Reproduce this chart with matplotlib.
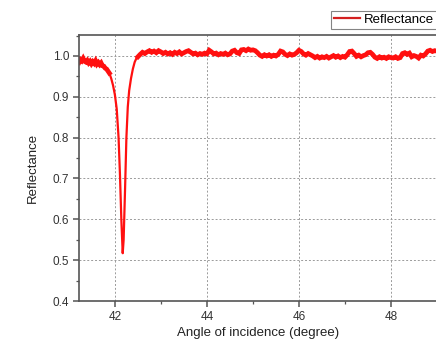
import matplotlib.pyplot as plt
from matplotlib.ticker import MultipleLocator

plt.rcParams['font.family'] = ['Liberation Sans', 'DejaVu Sans']

# noisy start before the dip
angle_left = [41.22, 41.25, 41.28, 41.31, 41.34, 41.37, 41.40, 41.43, 41.46, 41.49,
              41.52, 41.55, 41.58, 41.61, 41.64, 41.67, 41.70, 41.73, 41.76, 41.79,
              41.82, 41.85, 41.88]
refl_left = [0.984, 0.991, 0.988, 0.994, 0.987, 0.985, 0.989, 0.983, 0.987, 0.981,
             0.986, 0.982, 0.988, 0.980, 0.984, 0.979, 0.983, 0.976, 0.975, 0.970,
             0.968, 0.963, 0.958]

# resonance dip
angle_dip = [41.88, 41.92, 41.96, 42.00, 42.04, 42.08, 42.11, 42.14, 42.17, 42.19,
             42.22, 42.25, 42.28, 42.31, 42.35, 42.39, 42.43, 42.47, 42.50]
refl_dip = [0.958, 0.945, 0.928, 0.905, 0.870, 0.800, 0.710, 0.600, 0.517, 0.550,
            0.670, 0.800, 0.875, 0.915, 0.945, 0.968, 0.985, 0.995, 0.998]

# flat region, 42.50 .. 49.00 every 0.05 degree
angle_flat = [round(42.50 + 0.05 * i, 2) for i in range(131)]
refl_flat = [
    0.998,
    1.004, 1.009, 1.006, 1.010, 1.013, 1.009, 1.012, 1.008, 1.013, 1.010,
    1.006, 1.009, 1.005, 1.008, 1.004, 1.009, 1.006, 1.010, 1.005, 1.008,
    1.011, 1.013, 1.009, 1.005, 1.007, 1.003, 1.006, 1.004, 1.007, 1.005,
    1.014, 1.010, 1.005, 1.007, 1.003, 1.006, 1.004, 1.007, 1.003, 1.005,
    1.012, 1.014, 1.008, 1.006, 1.015, 1.016, 1.013, 1.017, 1.014, 1.015,
    1.013, 1.008, 1.002, 0.999, 1.003, 1.000, 1.003, 0.999, 1.002, 1.000,
    1.004, 1.012, 1.010, 1.004, 1.001, 1.005, 1.002, 1.004, 1.008, 1.014,
    1.011, 1.005, 1.002, 1.006, 1.003, 1.000, 0.996, 0.999, 0.995, 0.998,
    0.996, 0.999, 0.995, 0.998, 1.001, 0.997, 1.000, 0.996, 0.999, 0.997,
    1.003, 1.011, 1.012, 1.006, 0.999, 1.002, 0.998, 1.001, 1.003, 1.008,
    1.009, 1.004, 0.997, 0.994, 0.998, 0.995, 0.997, 0.994, 0.998, 0.996,
    0.995, 0.998, 0.994, 0.996, 1.006, 1.008, 1.004, 1.007, 0.998, 1.001,
    0.999, 0.995, 1.002, 1.000, 1.005, 1.012, 1.014, 1.011, 1.013, 1.012,
]

angle = angle_left + angle_dip[1:] + angle_flat[1:]
refl = refl_left + refl_dip[1:] + refl_flat[1:]

fig = plt.figure(figsize=(4.36, 3.42), dpi=100)
ax = fig.add_axes([79 / 436, 41 / 342, 358 / 436, 266 / 342])

red = '#ff1010'
line, = ax.plot(angle, refl, color=red, lw=1.6, label='Reflectance')
# noisy parts look like a thick jagged band
ax.plot(angle_left, refl_left, color=red, lw=3.4, solid_joinstyle='miter')
ax.plot(angle_flat, refl_flat, color=red, lw=3.4, solid_joinstyle='miter')

ax.set_xlim(41.22, 49.0)
ax.set_ylim(0.4, 1.0514)
ax.xaxis.set_major_locator(MultipleLocator(2))
ax.xaxis.set_minor_locator(MultipleLocator(1))
ax.yaxis.set_major_locator(MultipleLocator(0.1))
ax.yaxis.set_minor_locator(MultipleLocator(0.05))
ax.yaxis.set_major_formatter(plt.FormatStrFormatter('%.1f'))

ax.grid(True, which='major', color='#9a9a9a', ls=(0, (2, 2)), lw=0.7)
for s in ax.spines.values():
    s.set_color('#555555')
    s.set_linewidth(1.2)
ax.tick_params(which='major', direction='out', length=4, width=1.1,
               color='#555555', labelsize=8.5, labelcolor='#333333', pad=3)
ax.tick_params(which='minor', direction='out', length=2.5, width=0.9, color='#555555')
ax.tick_params(axis='x', which='major', pad=3)
ax.tick_params(right=False, top=False)

ax.set_xlabel('Angle of incidence (degree)', fontsize=9.5, color='#222222', labelpad=3)
ax.set_ylabel('Reflectance', fontsize=9.5, color='#222222', labelpad=10)

leg = fig.legend(handles=[line], loc='upper left', bbox_to_anchor=(331 / 436, 1 - 11 / 342),
                 fontsize=9.5, frameon=True, fancybox=False, handlelength=2.0,
                 handletextpad=0.3, borderpad=0.2, borderaxespad=0)
leg.get_frame().set_edgecolor('#666666')
leg.get_frame().set_linewidth(0.8)
leg.get_lines()[0].set_linewidth(1.6)
leg.get_lines()[0].set_color('#d42020')

fig.savefig('out.png', dpi=100)
